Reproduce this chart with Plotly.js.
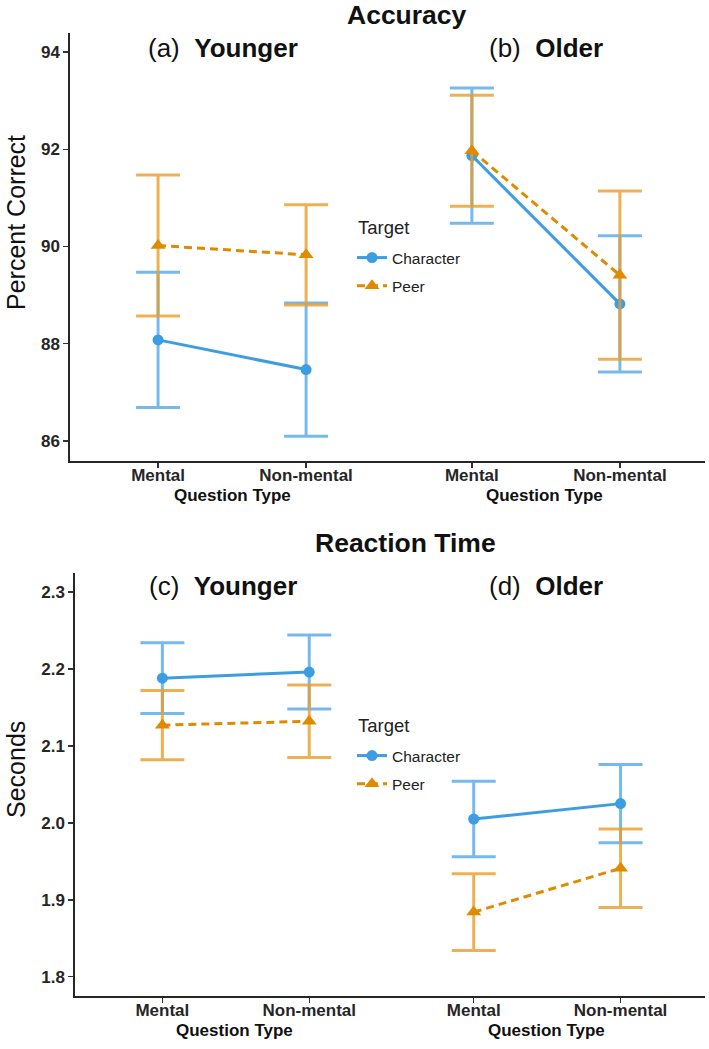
<!DOCTYPE html>
<html><head><meta charset="utf-8">
<script src="https://cdn.plot.ly/plotly-3.0.1.min.js"></script>
<style>html,body{margin:0;padding:0;background:#fff}</style>
</head><body><div id="chart" style="width:709px;height:1049px"></div>
<script>
// ---- data ----
const questionTypes = ["Mental", "Non-mental"];
const ageGroups = ["Younger", "Older"];
const targets = ["Character", "Peer"];
const legendTitle = "Target";
const panelLetters = [["(a)", "(b)"], ["(c)", "(d)"]];
const panelTitles = ["Accuracy", "Reaction Time"];
const yTitles = ["Percent Correct", "Seconds"];
const xTitle = "Question Type";

// Accuracy (percent correct), values ordered [Mental, Non-mental]
const accCharYounger = [88.08, 87.47];
const accCharYoungerErr = [1.39, 1.37];
const accPeerYounger = [90.02, 89.83];
const accPeerYoungerErr = [1.45, 1.03];
const accCharOlder = [91.87, 88.82];
const accCharOlderErr = [1.39, 1.40];
const accPeerOlder = [91.97, 89.41];
const accPeerOlderErr = [1.14, 1.73];

// Reaction time (seconds), values ordered [Mental, Non-mental]
const rtCharYounger = [2.188, 2.196];
const rtCharYoungerErr = [0.046, 0.048];
const rtPeerYounger = [2.127, 2.132];
const rtPeerYoungerErr = [0.045, 0.047];
const rtCharOlder = [2.005, 2.025];
const rtCharOlderErr = [0.049, 0.051];
const rtPeerOlder = [1.884, 1.941];
const rtPeerOlderErr = [0.050, 0.051];

const accTicks = [86, 88, 90, 92, 94];
const rtTicks = [1.8, 1.9, 2.0, 2.1, 2.2, 2.3];

// ---- layout helpers ----
const W = 709, H = 1049;
const px = v => v / W;
const py = v => 1 - v / H;
const GROUP_OFFSET = 2.12;
const xPos = (g, q) => 1 + q + g * GROUP_OFFSET;

const styles = {
  Character: {color: "#3d9de3", err: "rgba(94,174,234,0.85)", symbol: "circle", size: 11, dash: "solid"},
  Peer: {color: "#e08a00", err: "rgba(232,158,40,0.8)", symbol: "triangle-up", size: 13, dash: "8px,5px"}
};

const panels = [
  {data: {Character: [[accCharYounger, accCharYoungerErr], [accCharOlder, accCharOlderErr]],
          Peer: [[accPeerYounger, accPeerYoungerErr], [accPeerOlder, accPeerOlderErr]]}},
  {data: {Character: [[rtCharYounger, rtCharYoungerErr], [rtCharOlder, rtCharOlderErr]],
          Peer: [[rtPeerYounger, rtPeerYoungerErr], [rtPeerOlder, rtPeerOlderErr]]}}
];

const traces = [];
panels.forEach((p, pi) => {
  const xa = pi === 0 ? "x" : "x2";
  const ya = pi === 0 ? "y" : "y2";
  targets.forEach((t, ti) => {
    const s = styles[t];
    ageGroups.forEach((g, gi) => {
      const [vals, errs] = p.data[t][gi];
      traces.push({
        type: "scatter", mode: "lines+markers",
        x: questionTypes.map((q, qi) => xPos(gi, qi)),
        y: vals,
        xaxis: xa, yaxis: ya,
        name: t,
        legend: pi === 0 ? "legend" : "legend2",
        legendgroup: t + pi,
        showlegend: gi === 0,
        line: {color: s.color, width: 3, dash: s.dash},
        marker: {color: s.color, symbol: s.symbol, size: s.size},
        error_y: {type: "data", array: errs, visible: true, color: s.err, thickness: 3, width: 22},
        hoverinfo: "skip"
      });
    });
  });
});

const tickVals = [];
const tickText = [];
ageGroups.forEach((g, gi) => questionTypes.forEach((q, qi) => { tickVals.push(xPos(gi, qi)); tickText.push(q); }));

const F = "Liberation Sans, Arial, sans-serif";
const tickFont = {family: F, size: 17, color: "#262626", weight: "bold"};
const xBase = {
  range: [0.405, 4.695], tickvals: tickVals, ticktext: tickText,
  showline: true, linecolor: "#262626", linewidth: 1.6,
  ticks: "outside", ticklen: 5, tickwidth: 1.4, tickcolor: "#333",
  ticklabelstandoff: -7,
  showgrid: false, zeroline: false, tickfont: tickFont, fixedrange: true
};
const yBase = {
  showline: true, linecolor: "#262626", linewidth: 1.6,
  ticks: "outside", ticklen: 5, tickwidth: 1.4, tickcolor: "#333",
  showgrid: false, zeroline: false, tickfont: tickFont, fixedrange: true
};

const ann = [];
const addText = (text, x, y, size, extra) => ann.push(Object.assign({
  text: text, x: px(x), y: py(y), xref: "paper", yref: "paper",
  xanchor: "center", yanchor: "middle", showarrow: false,
  font: {family: F, size: size, color: "#111"}
}, extra || {}));

addText("<b>" + panelTitles[0] + "</b>", 407, 15, 26.5);
addText("<b>" + panelTitles[1] + "</b>", 405, 543, 26.5);
const groupCenters = [223, 546];
ageGroups.forEach((g, gi) => {
  addText(panelLetters[0][gi] + "\u00a0\u00a0<b>" + g + "</b>", groupCenters[gi], 48, 26);
  addText(panelLetters[1][gi] + "\u00a0\u00a0<b>" + g + "</b>", groupCenters[gi], 586, 26);
});
addText(yTitles[0], 16, 223, 25, {textangle: -90});
addText(yTitles[1], 16, 770, 25, {textangle: -90});
addText("<b>" + xTitle + "</b>", 232, 495, 17);
addText("<b>" + xTitle + "</b>", 544, 495, 17);
addText("<b>" + xTitle + "</b>", 234, 1030, 17);
addText("<b>" + xTitle + "</b>", 546, 1030, 17);
// legend titles
addText(legendTitle, 356, 227, 18.5, {xanchor: "left", font: {family: F, size: 18.5, color: "#222"}});
addText(legendTitle, 356, 725, 18.5, {xanchor: "left", font: {family: F, size: 18.5, color: "#222"}});

const legendBase = {
  xref: "paper", yref: "paper", xanchor: "left", yanchor: "top",
  bgcolor: "rgba(0,0,0,0)", borderwidth: 0,
  font: {family: F, size: 15.5, color: "#222"},
  traceorder: "grouped", tracegroupgap: 5, itemclick: false, itemdoubleclick: false
};

const layout = {
  width: W, height: H,
  margin: {l: 0, r: 0, t: 0, b: 0},
  paper_bgcolor: "#fff", plot_bgcolor: "#fff",
  showlegend: true,
  xaxis: Object.assign({}, xBase, {domain: [px(70), px(705)], anchor: "y"}),
  yaxis: Object.assign({}, yBase, {domain: [py(461), py(33)], range: [85.59, 94.39], tickvals: accTicks, anchor: "x"}),
  xaxis2: Object.assign({}, xBase, {domain: [px(75), px(705)], anchor: "y2"}),
  yaxis2: Object.assign({}, yBase, {domain: [py(996), py(573)], range: [1.775, 2.3247], tickvals: rtTicks, tickformat: ".1f", anchor: "x2"}),
  legend: Object.assign({}, legendBase, {x: px(352), y: py(241)}),
  legend2: Object.assign({}, legendBase, {x: px(352), y: py(739)}),
  annotations: ann
};

Plotly.newPlot("chart", traces, layout, {displayModeBar: false, staticPlot: true});
</script>
</body></html>
